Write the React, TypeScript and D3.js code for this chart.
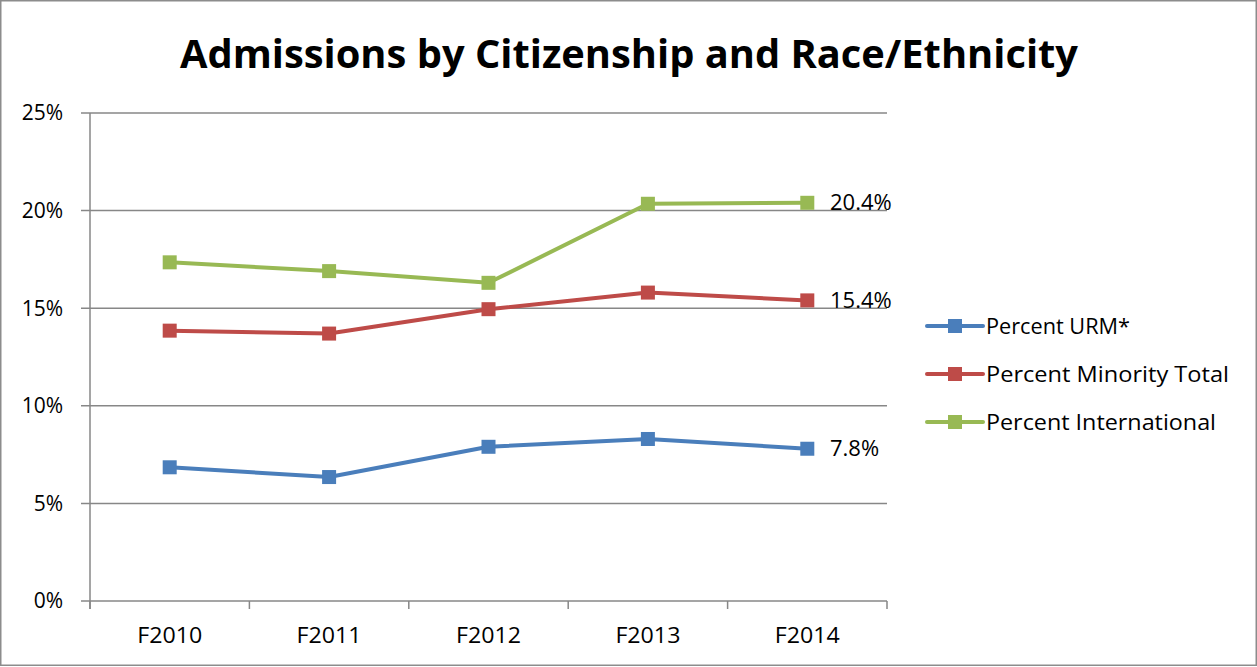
import React, { useEffect, useRef } from 'react';
import * as d3 from 'd3';

const years = ['F2010', 'F2011', 'F2012', 'F2013', 'F2014'];
const urm = [6.85, 6.35, 7.9, 8.3, 7.8];
const minority = [13.85, 13.7, 14.95, 15.8, 15.4];
const international = [17.35, 16.9, 16.3, 20.35, 20.4];
const yTicks = [0, 5, 10, 15, 20, 25];

const series = [
  { name: 'Percent URM*', values: urm, color: '#4a7ebb', last: '7.8%' },
  { name: 'Percent Minority Total', values: minority, color: '#be4b48', last: '15.4%' },
  { name: 'Percent International', values: international, color: '#98b954', last: '20.4%' },
];

export default function App() {
  const svgRef = useRef<SVGSVGElement>(null);

  useEffect(() => {
    const W = 1257;
    const H = 667;
    const font = 'Open Sans, sans-serif';
    const svg = d3.select(svgRef.current).attr('width', W).attr('height', H);
    svg.selectAll('*').remove();

    svg.append('rect').attr('x', 0.75).attr('y', 0.75).attr('width', W - 1.5).attr('height', H - 2.5)
      .attr('fill', '#fff').attr('stroke', '#8c8c8c').attr('stroke-width', 1.5);

    svg.append('text').attr('x', 629).attr('y', 68).attr('text-anchor', 'middle')
      .attr('font-family', font).attr('font-weight', 'bold').attr('font-size', 39)
      .attr('textLength', 898).attr('lengthAdjust', 'spacingAndGlyphs')
      .text('Admissions by Citizenship and Race/Ethnicity');

    const left = 90, right = 887, top = 113, bottom = 601;
    const x = d3.scaleBand().domain(years).range([left, right]);
    const y = d3.scaleLinear().domain([0, 25]).range([bottom, top]);
    const grid = '#878787';

    // gridlines + y ticks
    svg.append('g').selectAll('line').data(yTicks).join('line')
      .attr('x1', left - 9).attr('x2', right).attr('y1', (d) => y(d)).attr('y2', (d) => y(d))
      .attr('stroke', grid).attr('stroke-width', 1.5);
    svg.append('g').selectAll('text').data(yTicks).join('text')
      .attr('x', 63).attr('y', (d) => y(d)).attr('dy', '0.35em').attr('text-anchor', 'end')
      .attr('font-family', font).attr('font-size', 21).attr('fill', '#000')
      .text((d) => d + '%');

    // y axis line
    svg.append('line').attr('x1', left).attr('x2', left).attr('y1', top).attr('y2', bottom + 8)
      .attr('stroke', grid).attr('stroke-width', 1.5);

    // x ticks at band boundaries
    const bounds = years.map((d) => x(d)!).concat([right]);
    svg.append('g').selectAll('line').data(bounds).join('line')
      .attr('x1', (d) => d).attr('x2', (d) => d).attr('y1', bottom).attr('y2', bottom + 8)
      .attr('stroke', grid).attr('stroke-width', 1.5);
    svg.append('g').selectAll('text').data(years).join('text')
      .attr('x', (d) => x(d)! + x.bandwidth() / 2).attr('y', 636).attr('dy', '0.35em')
      .attr('text-anchor', 'middle').attr('font-family', font).attr('font-size', 21)
      .attr('textLength', 65).attr('lengthAdjust', 'spacingAndGlyphs')
      .text((d) => d);

    const cx = (i: number) => x(years[i])! + x.bandwidth() / 2;
    const line = d3.line<number>().x((d, i) => cx(i)).y((d) => y(d));

    series.forEach((s) => {
      const g = svg.append('g');
      g.append('path').attr('d', line(s.values)).attr('fill', 'none')
        .attr('stroke', s.color).attr('stroke-width', 4).attr('stroke-linejoin', 'round');
      g.selectAll('rect').data(s.values).join('rect')
        .attr('x', (d, i) => cx(i) - 7).attr('y', (d) => y(d) - 7)
        .attr('width', 14).attr('height', 14).attr('fill', s.color);
      const lv = s.values[s.values.length - 1];
      g.append('text').attr('x', 830).attr('y', y(lv)).attr('dy', '0.35em')
        .attr('font-family', font).attr('font-size', 22).attr('fill', '#000').text(s.last);
    });

    // legend
    const legendY = [326, 374, 422];
    const legendW = [144, 243, 230];
    series.forEach((s, i) => {
      const g = svg.append('g').attr('transform', `translate(927,${legendY[i]})`);
      g.append('line').attr('x1', 0).attr('x2', 56).attr('stroke', s.color)
        .attr('stroke-width', 4).attr('stroke-linecap', 'round');
      g.append('rect').attr('x', 21).attr('y', -7).attr('width', 14).attr('height', 14).attr('fill', s.color);
      g.append('text').attr('x', 59).attr('dy', '0.35em').attr('font-family', font)
        .attr('font-size', 22).attr('fill', '#000')
        .attr('textLength', legendW[i]).attr('lengthAdjust', 'spacingAndGlyphs')
        .text(s.name);
    });
  }, []);

  return (
    <div style={{ position: 'absolute', left: 0, top: 0 }}>
      <svg ref={svgRef}></svg>
    </div>
  );
}
